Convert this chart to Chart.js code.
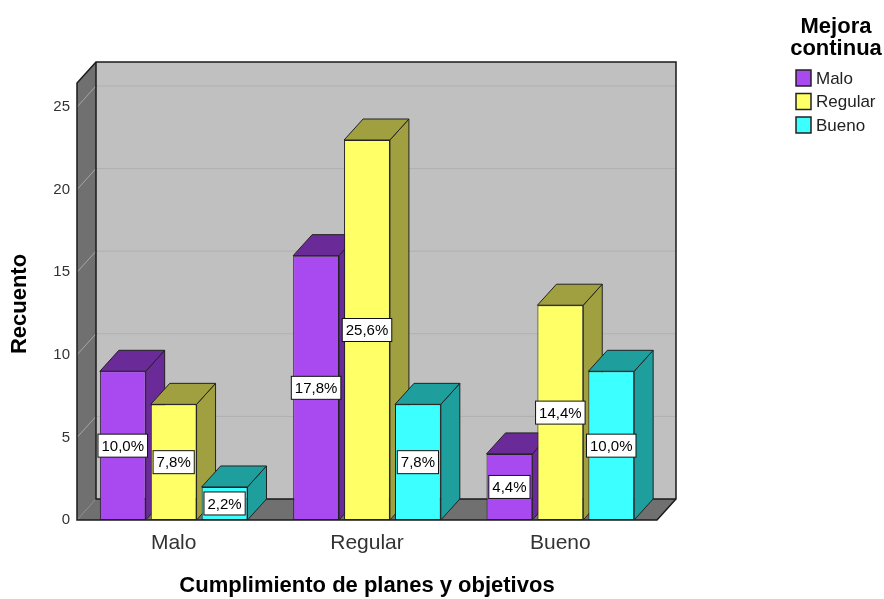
<!DOCTYPE html>
<html>
<head>
<meta charset="utf-8">
<script src="https://cdn.jsdelivr.net/npm/chart.js@4.4.1/dist/chart.umd.min.js"></script>
<style>
  html, body { margin: 0; padding: 0; background: #fff; overflow: hidden; }
</style>
</head>
<body>
<canvas id="chart" width="884" height="599"></canvas>
<script>
// datos (recuento por categoria)
const categories = ['Malo', 'Regular', 'Bueno'];
const seriesNames = ['Malo', 'Regular', 'Bueno'];
const maloValues = [9, 16, 4];
const regularValues = [7, 23, 13];
const buenoValues = [2, 7, 9];
const yTicks = [0, 5, 10, 15, 20, 25];

const xTitle = 'Cumplimiento de planes y objetivos';
const yTitle = 'Recuento';
const legendTitle = ['Mejora', 'continua'];

const frontColors = ['#a84af0', '#ffff66', '#3cffff'];
const darkColors = ['#6a2a98', '#a0a040', '#1f9e9e'];

const DX = 19, DY = -21;
const FONT = '"Liberation Sans", Arial, sans-serif';
const total = [...maloValues, ...regularValues, ...buenoValues].reduce((a, b) => a + b, 0);

function poly(ctx, pts, fill, stroke) {
  ctx.beginPath();
  pts.forEach((p, i) => i ? ctx.lineTo(p[0], p[1]) : ctx.moveTo(p[0], p[1]));
  ctx.closePath();
  if (fill) { ctx.fillStyle = fill; ctx.fill(); }
  if (stroke) { ctx.strokeStyle = stroke; ctx.stroke(); }
}

function barBoxes(chart) {
  const out = [];
  chart.data.datasets.forEach((ds, di) => {
    chart.getDatasetMeta(di).data.forEach((el, i) => {
      const p = el.getProps(['x', 'y', 'base', 'width'], true);
      out.push({ L: p.x - p.width / 2, R: p.x + p.width / 2, T: p.y, B: p.base, x: p.x, di, v: ds.data[i] });
    });
  });
  return out.sort((a, b) => a.L - b.L);
}

// paredes, suelo y caras laterales/superiores de las barras
const depthPlugin = {
  id: 'depth3d',
  beforeDatasetsDraw(chart) {
    const { ctx, chartArea: a, scales: { y } } = chart;
    ctx.save();
    ctx.lineWidth = 1;
    ctx.fillStyle = '#c0c0c0';
    ctx.fillRect(a.left + DX, a.top + DY, a.width, a.height);
    poly(ctx, [[a.left, a.top], [a.left + DX, a.top + DY], [a.left + DX, a.bottom + DY], [a.left, a.bottom]], '#707070');
    poly(ctx, [[a.left, a.bottom], [a.left + DX, a.bottom + DY], [a.right + DX, a.bottom + DY], [a.right, a.bottom]], '#707070');

    yTicks.forEach(v => {
      if (v === 0) return;
      const yy = y.getPixelForValue(v);
      ctx.strokeStyle = '#b0b0b0';
      ctx.beginPath();
      ctx.moveTo(a.left + DX, yy + DY);
      ctx.lineTo(a.right + DX, yy + DY);
      ctx.stroke();
      ctx.strokeStyle = '#a6a6a6';
      ctx.beginPath();
      ctx.moveTo(a.left, yy);
      ctx.lineTo(a.left + DX, yy + DY);
      ctx.stroke();
    });

    ctx.lineWidth = 1.5;
    ctx.strokeStyle = '#1a1a1a';
    poly(ctx, [[a.left, a.bottom], [a.left, a.top], [a.left + DX, a.top + DY], [a.right + DX, a.top + DY],
               [a.right + DX, a.bottom + DY], [a.right, a.bottom]], null, '#1a1a1a');
    ctx.beginPath();
    ctx.moveTo(a.left + DX, a.top + DY);
    ctx.lineTo(a.left + DX, a.bottom + DY);
    ctx.lineTo(a.right + DX, a.bottom + DY);
    ctx.stroke();

    ctx.lineWidth = 1;
    barBoxes(chart).forEach(b => {
      const c = darkColors[b.di];
      poly(ctx, [[b.R, b.T], [b.R + DX, b.T + DY], [b.R + DX, b.B + DY], [b.R, b.B]], c, '#222');
      poly(ctx, [[b.L, b.T], [b.L + DX, b.T + DY], [b.R + DX, b.T + DY], [b.R, b.T]], c, '#222');
    });
    ctx.restore();
  },
  afterDatasetsDraw(chart) {
    const { ctx } = chart;
    ctx.save();
    ctx.font = '15px ' + FONT;
    ctx.textAlign = 'center';
    ctx.textBaseline = 'middle';
    ctx.lineWidth = 1;
    barBoxes(chart).forEach(b => {
      const txt = (b.v / total * 100).toFixed(1).replace('.', ',') + '%';
      const w = ctx.measureText(txt).width + 7, h = 23;
      const cy = (b.T + b.B) / 2;
      ctx.fillStyle = '#fff';
      ctx.fillRect(b.x - w / 2, cy - h / 2, w, h);
      ctx.strokeStyle = '#111';
      ctx.strokeRect(b.x - w / 2, cy - h / 2, w, h);
      ctx.fillStyle = '#000';
      ctx.fillText(txt, b.x, cy + 1);
    });
    ctx.restore();
  },
  afterDraw(chart) {
    const { ctx, chartArea: a } = chart;
    ctx.save();
    ctx.fillStyle = '#000';
    ctx.font = 'bold 22px ' + FONT;
    ctx.textAlign = 'center';
    ctx.textBaseline = 'middle';
    ctx.fillText(xTitle, (a.left + a.right) / 2, 586);
    ctx.translate(20, 304);
    ctx.rotate(-Math.PI / 2);
    ctx.fillText(yTitle, 0, 0);
    ctx.restore();

    // leyenda
    ctx.save();
    ctx.fillStyle = '#000';
    ctx.font = 'bold 22px ' + FONT;
    ctx.textAlign = 'center';
    ctx.textBaseline = 'alphabetic';
    ctx.fillText(legendTitle[0], 836, 33);
    ctx.fillText(legendTitle[1], 836, 55);
    ctx.font = '17px ' + FONT;
    ctx.textAlign = 'left';
    ctx.textBaseline = 'middle';
    ctx.lineWidth = 1.5;
    seriesNames.forEach((n, i) => {
      const top = 70 + i * 23.5;
      ctx.fillStyle = frontColors[i];
      ctx.fillRect(796, top, 15, 16);
      ctx.strokeStyle = '#222';
      ctx.strokeRect(796, top, 15, 16);
      ctx.fillStyle = '#222';
      ctx.fillText(n, 816, top + 9);
    });
    ctx.restore();
  }
};

const seriesValues = [maloValues, regularValues, buenoValues];

new Chart(document.getElementById('chart'), {
  type: 'bar',
  data: {
    labels: categories,
    datasets: seriesNames.map((n, i) => ({
      label: n,
      data: seriesValues[i],
      backgroundColor: frontColors[i],
      borderColor: '#222',
      borderWidth: 1,
      borderSkipped: false,
      categoryPercentage: 0.79,
      barPercentage: 0.9
    }))
  },
  options: {
    responsive: false,
    animation: false,
    devicePixelRatio: 1,
    layout: { padding: { top: 83, right: 227, bottom: 0, left: 0 } },
    plugins: { legend: { display: false }, tooltip: { enabled: false } },
    scales: {
      x: {
        grid: { display: false, drawTicks: false, tickLength: 0 },
        border: { display: false },
        ticks: { color: '#333', font: { size: 21, family: FONT }, padding: 11 },
        afterFit: s => { s.height = 79; }
      },
      y: {
        min: 0,
        max: 26.45,
        grid: { display: false, drawTicks: false, tickLength: 0 },
        border: { display: false },
        ticks: { color: '#333', font: { size: 15, family: FONT }, padding: 7 },
        afterBuildTicks: s => { s.ticks = yTicks.map(v => ({ value: v })); },
        afterFit: s => { s.width = 77; }
      }
    }
  },
  plugins: [depthPlugin]
});
</script>
</body>
</html>
